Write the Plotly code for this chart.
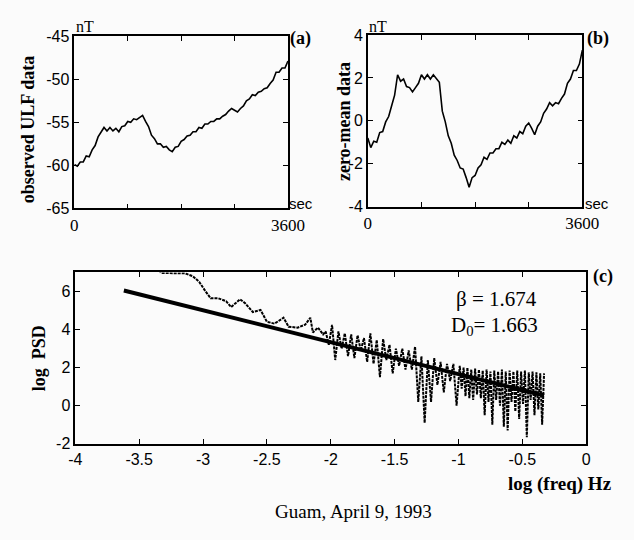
import plotly.graph_objects as go

# ---------------- data ----------------
t_sec = [0, 50, 100, 150, 200, 250, 300, 350, 400, 450, 500, 550, 600, 650, 700, 750,
         800, 850, 900, 950, 1000, 1050, 1100, 1150, 1200, 1250, 1300, 1350, 1400, 1450,
         1500, 1550, 1600, 1650, 1700, 1750, 1800, 1850, 1900, 1950, 2000, 2050, 2100,
         2150, 2200, 2250, 2300, 2350, 2400, 2450, 2500, 2550, 2600, 2650, 2700, 2750,
         2800, 2850, 2900, 2950, 3000, 3050, 3100, 3150, 3200, 3250, 3300, 3350, 3400,
         3450, 3500, 3550, 3600]

ulf_observed = [-59.9, -60.1, -59.6, -59.6, -58.9, -59.0, -58.2, -57.7, -56.7, -56.1,
                -55.6, -56.0, -55.6, -56.0, -55.7, -56.1, -55.5, -55.4, -54.9, -55.0,
                -54.6, -54.7, -54.4, -54.2, -54.9, -55.5, -56.5, -56.9, -57.5, -57.5,
                -57.9, -57.8, -58.2, -58.4, -57.9, -57.8, -57.2, -57.0, -56.6, -56.5,
                -56.1, -56.1, -55.6, -55.7, -55.2, -55.2, -54.9, -54.9, -54.6, -54.6,
                -54.3, -54.1, -53.7, -53.4, -53.6, -53.8, -53.4, -53.1, -52.5, -52.3,
                -51.8, -51.9, -51.5, -51.4, -51.1, -51.0, -50.5, -50.1, -49.2, -49.2,
                -48.7, -48.7, -47.9]

ulf_zero_mean = [-0.8, -1.25, -0.95, -1.0, -0.55, -0.5, -0.05, 0.2, 0.7, 1.2,
                 2.15, 1.85, 1.95, 1.6, 1.55, 1.35, 1.55, 1.75, 2.15, 1.95,
                 2.15, 1.95, 2.15, 1.95, 1.8, 0.45, -0.05, -0.7, -1.05, -1.6,
                 -1.85, -2.2, -2.25, -2.65, -3.1, -2.65, -2.55, -2.2, -2.05, -1.7,
                 -1.8, -1.5, -1.5, -1.3, -1.3, -1.0, -1.1, -0.9, -1.05, -0.7,
                 -0.8, -0.5, -0.6, -0.25, -0.1, -0.35, -0.65, -0.25, -0.05, 0.35,
                 0.55, 0.85, 0.7, 0.85, 0.8, 1.05, 1.25, 1.75, 1.95, 2.35,
                 2.35, 2.65, 3.3]

psd_logf = [-3.56, -3.40, -3.33, -3.24, -3.14, -3.08, -3.03, -2.98, -2.94, -2.88,
            -2.82, -2.78, -2.71, -2.67, -2.61, -2.55, -2.50, -2.44, -2.37, -2.33,
            -2.26, -2.20, -2.16, -2.14, -2.10, -2.06,
            -2.040, -2.015, -1.990, -1.965, -1.940, -1.915, -1.890, -1.865, -1.840, -1.815,
            -1.790, -1.765, -1.740, -1.715, -1.690, -1.665, -1.640, -1.615, -1.590, -1.565,
            -1.540, -1.515, -1.490, -1.465, -1.440, -1.415, -1.390, -1.365, -1.340, -1.315,
            -1.290, -1.265, -1.240, -1.215, -1.190, -1.165, -1.140, -1.115, -1.090, -1.065,
            -1.040, -1.015,
            -0.990, -0.975, -0.960, -0.945, -0.930, -0.915, -0.900, -0.885, -0.870, -0.855,
            -0.840, -0.825, -0.810, -0.795, -0.780, -0.765, -0.750, -0.735, -0.720, -0.705,
            -0.690, -0.675, -0.660, -0.645, -0.630, -0.615, -0.600, -0.585, -0.570, -0.555,
            -0.540, -0.525, -0.510, -0.495, -0.480, -0.465, -0.450, -0.435, -0.420, -0.405,
            -0.390, -0.375, -0.360, -0.345, -0.330]

psd_logp = [8.6, 7.7, 6.97, 6.97, 6.95, 6.8, 6.5, 6.0, 5.64, 5.64,
            5.49, 5.18, 5.59, 5.38, 4.92, 5.03, 4.41, 4.31, 4.62, 4.15,
            4.10, 4.26, 4.62, 3.85, 4.10, 3.74,
            3.9, 3.2, 4.25, 2.4, 3.9, 3.0, 3.8, 2.6, 3.75, 2.5,
            3.7, 2.9, 3.55, 2.3, 3.8, 2.2, 3.45, 1.5, 3.5, 2.4,
            3.2, 1.7, 3.0, 2.1, 3.0, 1.9, 2.9, 1.9, 3.1, 0.2,
            2.6, -0.9, 2.4, 0.2, 2.5, 1.1, 2.3, 0.7, 2.2, 1.3,
            2.2, 0.0,
            2.1, 0.9, 2.0, 0.5, 2.0, 0.4, 1.9, 0.3, 1.95, 0.6,
            1.9, 0.4, 1.85, -0.5, 1.9, 0.2, 1.8, -1.0, 1.85, 0.3,
            1.8, 0.0, 1.9, -1.1, 1.8, -1.3, 1.85, 0.2, 1.8, -0.3,
            1.85, -0.7, 1.8, 0.1, 1.85, -1.65, 1.75, 0.3, 1.8, -0.5,
            1.75, -0.2, 1.7, -1.0, 1.7]

fit_logf = [-3.62, -0.33]
fit_logp = [6.05, 0.54]

beta_value = 1.674
d0_value = 1.663

# ---------------- figure ----------------
W, H = 634, 540
SERIF = "Liberation Serif"
SANS = "Liberation Sans"
BG = "#fbfbfb"


def px(x):
    return x / W


def py(y):
    return 1 - y / H


fig = go.Figure()

fig.add_trace(go.Scatter(x=t_sec, y=ulf_observed, mode="lines",
                         line=dict(color="black", width=1.6),
                         xaxis="x", yaxis="y", showlegend=False))
fig.add_trace(go.Scatter(x=t_sec, y=ulf_zero_mean, mode="lines",
                         line=dict(color="black", width=1.6),
                         xaxis="x2", yaxis="y2", showlegend=False))
fig.add_trace(go.Scatter(x=psd_logf, y=psd_logp, mode="lines",
                         line=dict(color="black", width=2, dash="3px,1px"),
                         xaxis="x3", yaxis="y3", showlegend=False))
fig.add_trace(go.Scatter(x=fit_logf, y=fit_logp, mode="lines",
                         line=dict(color="black", width=4),
                         xaxis="x3", yaxis="y3", showlegend=False))

axis_common = dict(showline=True, linecolor="black", linewidth=1.6, mirror="ticks",
                   ticks="inside", ticklen=5, tickwidth=1.3, tickcolor="black",
                   showgrid=False, zeroline=False, fixedrange=True)

minor_t = dict(tickvals=[900, 1800, 2700], ticks="inside", ticklen=5,
               tickwidth=1.3, tickcolor="black", showgrid=False)

fig.update_layout(
    width=W, height=H,
    margin=dict(l=0, r=0, t=0, b=0),
    paper_bgcolor=BG, plot_bgcolor=BG,
    showlegend=False,
    xaxis=dict(domain=[px(70), px(292)], range=[0, 3600], anchor="y",
               tickvals=[0, 3600], ticktext=["0", "3600"], minor=minor_t,
               tickfont=dict(family=SERIF, size=17, color="black"), **axis_common),
    yaxis=dict(domain=[py(207), py(29)], range=[-65, -45], anchor="x",
               tickvals=[-65, -60, -55, -50, -45], ticktext=["-65", "-60", "-55", "-50", "-45"],
               tickfont=dict(family=SANS, size=16, color="black"), **axis_common),
    xaxis2=dict(domain=[px(375), px(598)], range=[0, 3600], anchor="y2",
                tickvals=[0, 3600], ticktext=["0", "3600"], minor=minor_t,
                tickfont=dict(family=SERIF, size=17, color="black"), **axis_common),
    yaxis2=dict(domain=[py(205), py(28)], range=[-4, 4], anchor="x2",
                tickvals=[-4, -2, 0, 2, 4], ticktext=["-4", "-2", "0", "2", "4"],
                tickfont=dict(family=SANS, size=16, color="black"), **axis_common),
    xaxis3=dict(domain=[px(71), px(602)], range=[-4, 0], anchor="y3",
                tickvals=[-4, -3.5, -3, -2.5, -2, -1.5, -1, -0.5, 0],
                ticktext=["-4", "-3.5", "-3", "-2.5", "-2", "-1.5", "-1", "-0.5", "0"],
                tickfont=dict(family=SANS, size=16, color="black"), **axis_common),
    yaxis3=dict(domain=[py(450), py(273)], range=[-2, 7], anchor="x3",
                tickvals=[-2, 0, 2, 4, 6], ticktext=["-2", "0", "2", "4", "6"],
                tickfont=dict(family=SANS, size=16, color="black"), **axis_common),
)


def note(text, x, y, size=16, bold=False, angle=0, xanchor="center", family=SERIF):
    if bold:
        text = "<b>" + text + "</b>"
    fig.add_annotation(text=text, x=px(x), y=py(y), xref="paper", yref="paper",
                       showarrow=False, textangle=angle, xanchor=xanchor, yanchor="middle",
                       font=dict(family=family, size=size, color="black"))


note("nT", 81, 19, size=16)
note("(a)", 305, 31, size=18, bold=True)
note("sec", 306, 202, size=15, family=SANS)
note("nT", 386, 19, size=16)
note("(b)", 614, 31, size=18, bold=True)
note("sec", 613, 202, size=15, family=SANS)
note("observed ULF data", 22, 126, size=18, bold=True, angle=-90)
note("zero-mean data", 351, 117, size=18, bold=True, angle=-90)
note("log  PSD", 33, 362, size=18, bold=True, angle=-90)
note("(c)", 619, 277, size=18, bold=True)
note("\u03b2 = %.3f" % beta_value, 509, 300, size=21)
note("D<sub>0</sub>= %.3f" % d0_value, 507, 328, size=21)
note("log (freq) Hz", 631, 491, size=19, bold=True, xanchor="right")
note("Guam, April 9, 1993", 360, 520, size=19)

fig.write_html("out.html", config={"displayModeBar": False},
               post_script="document.body.style.margin='0';document.body.style.overflow='hidden';")
